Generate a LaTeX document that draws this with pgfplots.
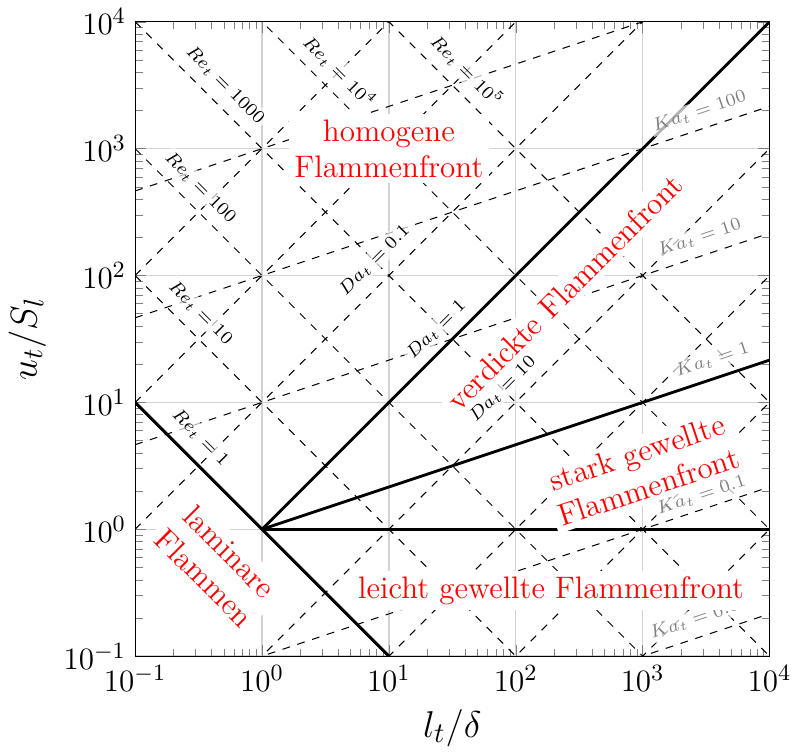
\documentclass[border=0pt]{standalone}
\usepackage{pgfplots}
\pgfplotsset{compat=1.18}
\begin{document}
\begin{tikzpicture}[
  regime/.style={text=red, fill=white, inner sep=2pt, align=center,
    font=\fontsize{12}{14}\selectfont},
  small/.style={fill=white, fill opacity=0.7, text opacity=1, inner sep=1pt,
    font=\fontsize{7}{8.5}\selectfont},
  kalabel/.style={small, text=gray, rotate=18.43},
  iso/.style={black, dashed, line width=0.4pt},
  border/.style={black, line width=1.1pt}
]
\begin{axis}[
  scale only axis, width=245pt, height=245pt,
  xmode=log, ymode=log,
  xmin=0.1, xmax=1e4, ymin=0.1, ymax=1e4,
  grid=major, major grid style={gray!35, line width=0.5pt},
  xlabel={$l_t/\delta$}, ylabel={$u_t/S_l$},
  label style={font=\fontsize{15}{18}\selectfont},
  tick label style={font=\fontsize{12.5}{15}\selectfont},
  clip mode=individual,
]
% Re_t = const  (slope -1)
\addplot[iso] coordinates {(0.1,100) (1e4,0.001)};
\addplot[iso] coordinates {(0.1,1000) (1e4,0.01)};
\addplot[iso] coordinates {(0.1,1e4) (1e4,0.1)};
\addplot[iso] coordinates {(0.1,1e5) (1e4,1)};
\addplot[iso] coordinates {(0.1,1e6) (1e4,10)};
% Da_t = const  (slope +1)
\addplot[iso] coordinates {(0.1,100) (1e4,1e7)};
\addplot[iso] coordinates {(0.1,10) (1e4,1e6)};
\addplot[iso] coordinates {(0.1,1) (1e4,1e5)};
\addplot[iso] coordinates {(0.1,0.01) (1e4,1000)};
\addplot[iso] coordinates {(0.1,0.001) (1e4,100)};
\addplot[iso] coordinates {(0.1,1e-4) (1e4,10)};
\addplot[iso] coordinates {(0.1,1e-5) (1e4,1)};
% Ka_t = const  (slope 1/3)
\addplot[iso] coordinates {(0.1,0.004642) (1e4,0.21544)};
\addplot[iso] coordinates {(0.1,0.04642) (1e4,2.1544)};
\addplot[iso] coordinates {(0.1,4.642) (1e4,215.44)};
\addplot[iso] coordinates {(0.1,46.42) (1e4,2154.4)};
\addplot[iso] coordinates {(0.1,464.2) (1e4,21544)};
% regime borders
\addplot[border] coordinates {(0.1,10) (10,0.1)};
\addplot[border] coordinates {(1,1) (1e4,1e4)};
\addplot[border] coordinates {(1,1) (1e4,21.544)};
\addplot[border] coordinates {(1,1) (1e4,1)};

% iso-line labels
\node[small, rotate=-45] at (axis cs:0.327,5.25) {$Re_t = 1$};
\node[small, rotate=-45] at (axis cs:0.327,50.8) {$Re_t = 10$};
\node[small, rotate=-45] at (axis cs:0.327,491) {$Re_t = 100$};
\node[small, rotate=-45] at (axis cs:0.513,3163) {$Re_t = 1000$};
\node[small, rotate=-45] at (axis cs:4.08,4048) {$Re_t = 10^4$};
\node[small, rotate=-45] at (axis cs:41.1,4121) {$Re_t = 10^5$};
\node[small, rotate=45] at (axis cs:7.7,132) {$Da_t = 0.1$};
\node[small, rotate=45] at (axis cs:23.6,37.4) {$Da_t = 1$};
\node[small, rotate=45] at (axis cs:78.8,12.7) {$Da_t = 10$};
\node[kalabel] at (axis cs:2807,0.2) {$Ka_t = 0.01$};

% regime names
\node[regime] at (axis cs:10,1000) {homogene\\Flammenfront};
\node[regime, rotate=45] at (axis cs:243,74) {verdickte Flammenfront};
\node[regime, rotate=18.43] at (axis cs:1000,2.95) {stark gewellte\\Flammenfront};
\node[regime] at (axis cs:190,0.33) {leicht gewellte Flammenfront};
\node[regime, rotate=-45] at (axis cs:0.44,0.525) {laminare\\Flammen};

% Ka_t labels on top
\node[kalabel] at (axis cs:2807,1969) {$Ka_t = 100$};
\node[kalabel] at (axis cs:2807,199) {$Ka_t = 10$};
\node[kalabel] at (axis cs:3550,21.8) {$Ka_t = 1$};
\node[kalabel] at (axis cs:2900,1.85) {$Ka_t = 0.1$};
\end{axis}
\end{tikzpicture}
\end{document}
